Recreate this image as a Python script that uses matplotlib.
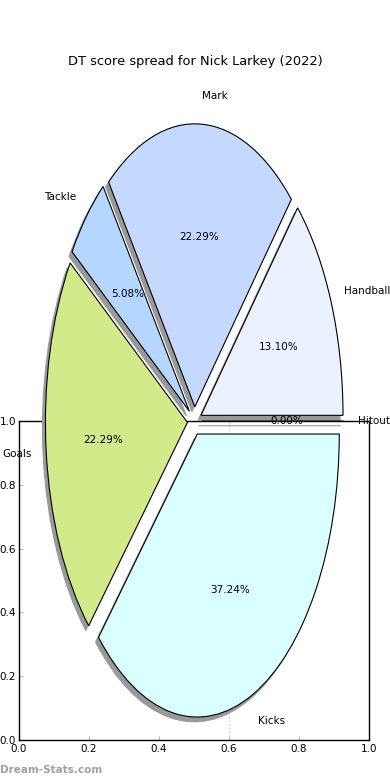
import matplotlib
matplotlib.use("Agg")
import matplotlib.pyplot as plt

# dados do grafico (percentual dos pontos DT)
categorias = ["Handball", "Mark", "Tackle", "Goals", "Kicks", "Hitout"]
valores = [13.10, 22.29, 5.08, 22.29, 37.24, 0.00]
cores = ["#EAF1FF", "#C5D9FF", "#B5D6FF", "#D1EB8B", "#DAFFFF", "#FFE0C0"]
titulo = "DT score spread for Nick Larkey (2022)"

fig = plt.figure(figsize=(3.9, 7.8), dpi=100)

#==========================
# eixo de fundo (vazio, 0..1)
#==========================
ax_fundo = fig.add_axes([19 / 390, 40 / 780, 350 / 390, 319 / 780])
ax_fundo.set_xlim(0, 1)
ax_fundo.set_ylim(0, 1)
ax_fundo.axvline(0.6, color="#cccccc", ls=":", lw=1)
ax_fundo.tick_params(labelsize=7.5, direction="in", length=3, color="#bbbbbb", pad=3)
ax_fundo.tick_params(axis="y", pad=2)
for s in ax_fundo.spines.values():
    s.set_linewidth(1)

#==========================
# pizza por cima
#==========================
ax = fig.add_axes([0, 0, 1, 1])
ax.patch.set_alpha(0)
ax.pie(valores, labels=categorias, colors=cores, explode=[0.05] * len(valores),
       autopct="%1.2f%%", startangle=0,
       shadow={"ox": -0.015, "oy": -0.012, "facecolor": "#999999",
               "edgecolor": "#999999", "alpha": 1},
       wedgeprops={"edgecolor": "black", "linewidth": 0.8},
       textprops={"fontsize": 7.5})
ax.set_aspect("auto")
cx, cy = 194.5, 359
rx, ry = 142, 283
ax.set_xlim(-cx / rx, (390 - cx) / rx)
ax.set_ylim(-cy / ry, (780 - cy) / ry)
ax.axis("off")

fig.text(0.5, 1 - 61 / 780, titulo, ha="center", va="center", fontsize=9.4)
fig.text(0.0, 1 - 770 / 780, "Dream-Stats.com", ha="left", va="center",
         fontsize=7.5, color="#a0a0a0", fontweight="bold")

fig.savefig("out.png", dpi=100)
